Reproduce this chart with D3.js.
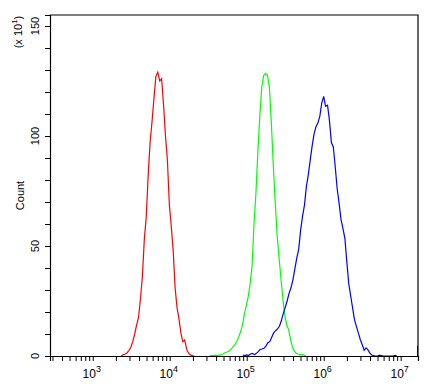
<!DOCTYPE html>
<html><head><meta charset="utf-8">
<script src="https://cdn.jsdelivr.net/npm/d3@7"></script>
<style>body{margin:0;background:#fff}svg{display:block}text{font-family:"Liberation Sans",Arial,sans-serif;fill:#000}</style>
</head><body><div id="chart"></div>
<script>
// ---- data (log10 fluorescence bins, counts in units of 10) ----
const xDomainLog = [2.445, 7.225];
const yDomain = [0, 155];
const binStep = 0.025;
const redStart = 3.37;
const redCounts = [0,0.5,0.9,1.4,2.5,4,6.5,10,14,17.5,26,36,53,63,82,97,106.5,117,127,129,125,126,114,100,89,69,59,48,31,22,17,10.5,6.5,7.3,3,1.3,0.5,0.2,0];
const greenStart = 4.52;
const greenCounts = [0.2,0.3,0.2,0.4,0.3,0.4,0.5,1,1.5,1.8,2.2,3,4,5,6.5,8.7,11,14,19,23,27,33,41,60,74,93,109,122,127.5,128.5,127.7,122,106,87,70,55,45,35,26,18.5,14,12,7.5,3.8,2.2,1.2,0.9,0.7,0.6,0.4,0];
const blueStart = 4.95;
const blueCounts = [0.4,0.2,0.5,0.3,0.9,1.2,0.6,1.2,2,3,3.2,3.5,4.5,6,6.5,8.5,10.5,11.5,12.3,13.5,16,19.4,22,25,28.5,31,34.5,39.5,44.5,48.5,57,63.5,68.5,77,82.3,89,95.5,101,104.2,106,109,115,118,113.5,114,107,97,95,86,76,69.5,62,58,53.5,43,33,27.5,22,16.5,13.5,10.5,7.5,5.2,2.6,3.7,2.8,1.3,0.45,0.2,0,0,0.4,0.2,0,0,0,0,0,0,0.3,0];
const redEdge = [[2.45, 1]];
const blueEdge = [[7.22, 4.5]];
const yMajorTicks = [0, 50, 100, 150];
const xMajorExps = [3, 4, 5, 6, 7];
const yLabel = "Count";

// ---- layout ----
const W = 436, H = 386;
const m = {left: 50, right: 18, top: 15, bottom: 30};
const svg = d3.select("#chart").append("svg").attr("width", W).attr("height", H);

const x = d3.scaleLog().domain(xDomainLog.map(v => Math.pow(10, v))).range([m.left, W - m.right]);
const y = d3.scaleLinear().domain(yDomain).range([H - m.bottom, m.top]);

svg.append("defs").append("clipPath").attr("id", "clip")
  .append("rect").attr("x", m.left).attr("y", m.top)
  .attr("width", W - m.left - m.right).attr("height", H - m.top - m.bottom);

const line = d3.line().x(d => x(d[0])).y(d => y(d[1])).curve(d3.curveLinear);
function pts(start, counts) { return counts.map((c, i) => [Math.pow(10, start + i * binStep), c]); }

const g = svg.append("g").attr("clip-path", "url(#clip)");
const series = [
  {start: redStart, counts: redCounts, color: "#ff0000", edge: redEdge},
  {start: greenStart, counts: greenCounts, color: "#00ff00", edge: []},
  {start: blueStart, counts: blueCounts, color: "#0000ff", edge: blueEdge}
];
series.forEach(s => {
  g.append("path").attr("d", line(pts(s.start, s.counts)))
    .attr("fill", "none").attr("stroke", s.color).attr("stroke-width", 1.2);
  s.edge.forEach(e => {
    const lx = d3.line().x(d => x(Math.pow(10, d[0]))).y(d => y(d[1]));
    g.append("path").attr("d", lx([[e[0], 0], [e[0], e[1]]]))
      .attr("fill", "none").attr("stroke", s.color).attr("stroke-width", 1.2);
  });
});

// ---- frame ----
const x0 = m.left, x1 = W - m.right, y0 = H - m.bottom, y1 = m.top;
svg.append("path").attr("d", `M${x0},${y1}H${x1}V${y0}`).attr("fill", "none").attr("stroke", "#000").attr("stroke-width", 1.2);

// ---- x axis ----
const minorX = [];
for (let e = 2; e <= 7; e++) for (let k = 1; k <= 9; k++) {
  const v = k * Math.pow(10, e);
  if (v >= x.domain()[0] * 0.999 && v <= x.domain()[1]) minorX.push(v);
}
const xAxis = d3.axisBottom(x).tickValues(minorX).tickSize(5).tickFormat("");
const xg = svg.append("g").attr("transform", `translate(0,${y0})`).call(xAxis);
xg.select(".domain").attr("stroke-width", 1.2);
xg.selectAll(".tick line").attr("stroke-width", 1);
xMajorExps.forEach(e => {
  const t = svg.append("text").attr("x", x(Math.pow(10, e)) - 1).attr("y", 378)
    .attr("text-anchor", "middle").attr("font-size", 12);
  t.append("tspan").text("10");
  t.append("tspan").attr("dy", -6).attr("font-size", 9).text(e);
});

// ---- y axis ----
const minorY = d3.range(0, 151, 10);
const yAxis = d3.axisLeft(y).tickValues(minorY).tickSize(5).tickFormat("");
const yg = svg.append("g").attr("transform", `translate(${x0},0)`).call(yAxis);
yg.select(".domain").attr("stroke-width", 1.2);
yMajorTicks.forEach(v => {
  svg.append("text").attr("transform", `translate(39,${y(v)}) rotate(-90)`)
    .attr("text-anchor", "middle").attr("font-size", 11).text(v);
});
svg.append("text").attr("transform", `translate(24,${(y0 + y1) / 2 + 10}) rotate(-90)`)
  .attr("text-anchor", "middle").attr("font-size", 11).text(yLabel);
const ex = svg.append("text").attr("transform", `translate(22,32) rotate(-90)`)
  .attr("text-anchor", "middle").attr("font-size", 11);
ex.append("tspan").text("(x 10");
ex.append("tspan").attr("dy", -5).attr("font-size", 8).text("1");
ex.append("tspan").attr("dy", 5).text(")");
</script></body></html>
